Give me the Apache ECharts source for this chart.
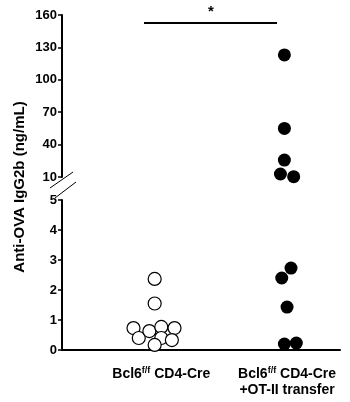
<!DOCTYPE html>
<html><head><meta charset="utf-8">
<script src="https://cdn.jsdelivr.net/npm/echarts@6/dist/echarts.min.js"></script>
<style>html,body{margin:0;padding:0;background:#fff}#c{width:350px;height:402px}</style>
</head><body><div id="c"></div>
<script>
// Data
var groupLabels = ['Bcl6{sup|f/f} CD4-Cre', 'Bcl6{sup|f/f} CD4-Cre\n+OT-II transfer'];
var group1Values = [2.37, 1.55, 0.73, 0.40, 0.63, 0.77, 0.73, 0.40, 0.33, 0.17];
var group1Jitter = [0.0, 0.0, -0.16, -0.12, -0.04, 0.05, 0.15, 0.05, 0.13, 0.0];
var group2Values = [123, 55, 25.7, 12.8, 10.3, 2.73, 2.40, 1.43, 0.20, 0.23];
var group2Jitter = [-0.02, -0.02, -0.02, -0.05, 0.05, 0.03, -0.04, 0.0, -0.02, 0.07];
var upperTicks = [10, 40, 70, 100, 130, 160];
var lowerTicks = [0, 1, 2, 3, 4, 5];
var breakLow = 5, breakHigh = 10;

function split(values, jitter, center) {
  var lo = [], hi = [];
  values.forEach(function (v, i) {
    var p = [center + jitter[i], v];
    if (v > breakLow) hi.push(p); else lo.push(p);
  });
  return {lo: lo, hi: hi};
}
var g1 = split(group1Values, group1Jitter, 1);
var g2 = split(group2Values, group2Jitter, 2);

var FONT = "'Liberation Sans', Arial, sans-serif";
var chart = echarts.init(document.getElementById('c'), null, {renderer: 'canvas'});
var axisLabelStyle = {color: '#000', fontWeight: 'bold', fontSize: 13, fontFamily: FONT, margin: 5};
var openStyle = {color: '#fff', borderColor: '#000', borderWidth: 1.2, opacity: 1};
var fillStyle = {color: '#000', borderColor: '#000', borderWidth: 0, opacity: 1};

chart.setOption({
  animation: false,
  backgroundColor: '#fff',
  grid: [
    {left: 62, right: 10, top: 15, height: 162},
    {left: 62, right: 10, top: 200, bottom: 52}
  ],
  xAxis: [
    {gridIndex: 0, type: 'value', min: 0.3, max: 2.4, show: false},
    {gridIndex: 1, type: 'value', min: 0.3, max: 2.4,
      axisLine: {show: true, onZero: false, lineStyle: {color: '#000', width: 2}},
      axisTick: {show: false}, splitLine: {show: false},
      axisLabel: {
        customValues: [1.05, 2], interval: 0, margin: 16,
        formatter: function (v) { return groupLabels[Math.round(v) - 1] || ''; },
        color: '#000', fontWeight: 'bold', fontSize: 14, fontFamily: FONT, lineHeight: 16,
        rich: {sup: {fontSize: 9, fontWeight: 'bold', fontFamily: FONT, color: '#000', padding: [0, 0, 6, 0]}}
      }
    }
  ],
  yAxis: [
    {gridIndex: 0, type: 'value', min: upperTicks[0], max: upperTicks[upperTicks.length - 1], interval: 30,
      axisLine: {show: true, lineStyle: {color: '#000', width: 2}},
      axisTick: {show: true, length: 4, lineStyle: {color: '#000', width: 1.5}},
      splitLine: {show: false}, axisLabel: axisLabelStyle},
    {gridIndex: 1, type: 'value', min: lowerTicks[0], max: lowerTicks[lowerTicks.length - 1], interval: 1,
      axisLine: {show: true, lineStyle: {color: '#000', width: 2}},
      axisTick: {show: true, length: 4, lineStyle: {color: '#000', width: 1.5}},
      splitLine: {show: false}, axisLabel: axisLabelStyle}
  ],
  series: [
    {type: 'scatter', xAxisIndex: 1, yAxisIndex: 1, data: g1.lo, symbol: 'circle', symbolSize: 13, itemStyle: openStyle, z: 3},
    {type: 'scatter', xAxisIndex: 0, yAxisIndex: 0, data: g1.hi, symbol: 'circle', symbolSize: 13, itemStyle: openStyle, z: 3},
    {type: 'scatter', xAxisIndex: 1, yAxisIndex: 1, data: g2.lo, symbol: 'circle', symbolSize: 13, itemStyle: fillStyle, z: 3},
    {type: 'scatter', xAxisIndex: 0, yAxisIndex: 0, data: g2.hi, symbol: 'circle', symbolSize: 13, itemStyle: fillStyle, z: 3}
  ],
  graphic: [
    {type: 'text', rotation: Math.PI / 2, x: 20, y: 187,
      style: {text: 'Anti-OVA IgG2b (ng/mL)', fill: '#000', font: 'bold 15px ' + FONT, align: 'center', verticalAlign: 'middle'}},
    {type: 'line', shape: {x1: 50, y1: 188, x2: 73, y2: 172}, style: {stroke: '#000', lineWidth: 1}},
    {type: 'line', shape: {x1: 55, y1: 198, x2: 76, y2: 182}, style: {stroke: '#000', lineWidth: 1}},
    {type: 'line', shape: {x1: 144, y1: 23, x2: 277, y2: 23}, style: {stroke: '#000', lineWidth: 2}},
    {type: 'text', x: 211, y: 12, style: {text: '*', fill: '#000', font: 'bold 15px ' + FONT, align: 'center', verticalAlign: 'middle'}}
  ]
});
</script></body></html>
